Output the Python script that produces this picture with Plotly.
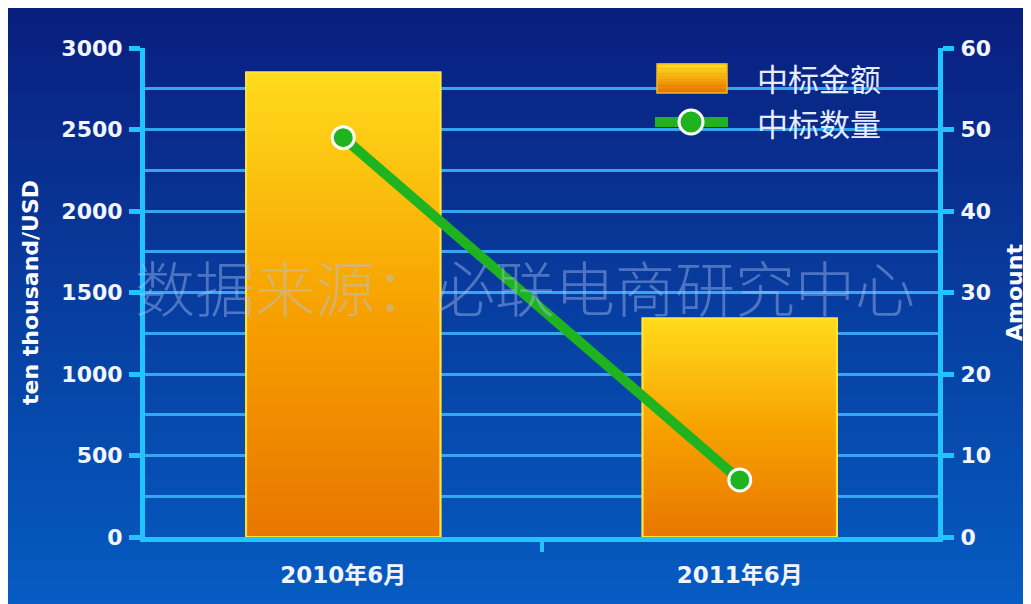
import plotly.graph_objects as go
import numpy as np

categories = ["2010年6月", "2011年6月"]
amount_values = [2850, 1340]      # 中标金额 (ten thousand USD)
count_values = [49, 7]            # 中标数量
left_ticks = [0, 500, 1000, 1500, 2000, 2500, 3000]
right_ticks = [0, 10, 20, 30, 40, 50, 60]
series_names = ["中标金额", "中标数量"]
watermark = "数据来源：必联电商研究中心"

x_pos = list(range(len(categories)))
bar_w = 0.49

W, H = 1023, 596
L, R, T, B = 137, 93, 40, 67
PW, PH = W - L - R, H - T - B


def px_x(page_x):
    return (page_x - 145) / PW


def px_y(page_y):
    return (537 - page_y) / PH


fig = go.Figure()

# background gradient strips (style only)
top_col = np.array([10, 31, 126])
bot_col = np.array([6, 92, 194])
y0p, y1p = -B / PH, (H - B) / PH + 0.01
x0p, x1p = -L / PW, (W - L) / PW
n = 80
for i in range(n):
    t = i / (n - 1)
    c = (bot_col * (1 - t) + top_col * t).astype(int)
    ya = y0p + (y1p - y0p) * i / n
    yb = y0p + (y1p - y0p) * (i + 1) / n + 0.002
    fig.add_shape(type="rect", xref="paper", yref="paper",
                  x0=x0p, x1=x1p, y0=ya, y1=yb,
                  fillcolor=f"rgb({c[0]},{c[1]},{c[2]})", line_width=0, layer="below")

bar_scale = [[0, "#e97600"], [0.5, "#f7a200"], [1, "#ffdb1c"]]

fig.add_trace(go.Bar(x=x_pos, y=amount_values, width=bar_w, name=series_names[0],
                     marker=dict(color="#f7a500", line=dict(color="#ffe23a", width=2)),
                     showlegend=False, yaxis="y"))

for xi, v in zip(x_pos, amount_values):
    xs = [xi - bar_w / 2, xi + bar_w / 2, xi + bar_w / 2, xi - bar_w / 2, xi - bar_w / 2]
    ys = [0, 0, v, v, 0]
    fig.add_trace(go.Scatter(x=xs, y=ys, mode="lines", fill="toself",
                             line=dict(color="#ffe23a", width=2),
                             fillgradient=dict(type="vertical", colorscale=bar_scale),
                             showlegend=False, hoverinfo="skip", yaxis="y"))

fig.add_trace(go.Scatter(x=x_pos, y=count_values, mode="lines+markers", name=series_names[1],
                         line=dict(color="#1fb41f", width=10),
                         marker=dict(size=22, color="#1fb41f", line=dict(color="white", width=3)),
                         showlegend=False, yaxis="y2"))

axis_col = "#22c4ff"
grid_col = "#36a6f2"
num_font = dict(family="DejaVu Sans", size=22, color="#f2f5ff", weight="bold")
title_font = dict(family="DejaVu Sans", size=22, color="white", weight="bold")

fig.update_layout(
    width=W, height=H,
    margin=dict(l=L, r=R, t=T, b=B, autoexpand=False),
    paper_bgcolor="white",
    plot_bgcolor="rgba(0,0,0,0)",
    showlegend=False,
    xaxis=dict(range=[-0.5, 1.5], tickvals=x_pos, ticktext=categories,
               showgrid=False, zeroline=False, showline=True, linecolor=axis_col, linewidth=5,
               ticks="", tickfont=dict(family="DejaVu Sans, Noto Sans CJK SC", size=23, color="#f2f5ff", weight="bold"),
               ticklabelstandoff=13,
               minor=dict(tickvals=[0.5], ticks="outside", ticklen=10, tickwidth=4, tickcolor=axis_col)),
    yaxis=dict(range=[0, 3000], tickvals=left_ticks, showgrid=True, gridcolor=grid_col, gridwidth=3,
               zeroline=False, showline=True, linecolor=axis_col, linewidth=5,
               ticks="outside", ticklen=11, tickwidth=5, tickcolor=axis_col,
               tickfont=num_font, ticklabelstandoff=2,
               minor=dict(dtick=250, showgrid=True, gridcolor=grid_col, gridwidth=3),
               title=dict(text="ten thousand/USD", font=title_font, standoff=18)),
    yaxis2=dict(range=[0, 60], tickvals=right_ticks, overlaying="y", side="right",
                showgrid=False, zeroline=False, showline=True, linecolor=axis_col, linewidth=5,
                ticks="outside", ticklen=11, tickwidth=5, tickcolor=axis_col,
                tickfont=num_font, ticklabelstandoff=2,
                title=dict(text="Amount", font=title_font, standoff=18)),
)

# watermark
fig.add_annotation(text=watermark, xref="paper", yref="paper", x=px_x(525), y=px_y(285),
                   showarrow=False,
                   font=dict(family="Noto Sans CJK SC", size=60, color="rgba(175,195,245,0.42)", weight=300))

# custom legend
nl = 12
ly0, ly1 = 93, 64
for i in range(nl):
    t = i / (nl - 1)
    c = (np.array([233, 118, 0]) * (1 - t) + np.array([255, 219, 28]) * t).astype(int)
    pa = ly0 - (ly0 - ly1) * i / nl
    pb = ly0 - (ly0 - ly1) * (i + 1) / nl - 0.5
    fig.add_shape(type="rect", xref="paper", yref="paper",
                  x0=px_x(657), x1=px_x(727), y0=px_y(pa), y1=px_y(pb),
                  fillcolor=f"rgb({c[0]},{c[1]},{c[2]})", line_width=0)
fig.add_shape(type="rect", xref="paper", yref="paper",
              x0=px_x(657), x1=px_x(727), y0=px_y(ly0), y1=px_y(ly1),
              line=dict(color="#f5b820", width=1.5), fillcolor="rgba(0,0,0,0)")
fig.add_shape(type="line", xref="paper", yref="paper",
              x0=px_x(655), x1=px_x(728), y0=px_y(122), y1=px_y(122),
              line=dict(color="#1fb41f", width=10))
fig.add_shape(type="circle", xref="paper", yref="paper",
              x0=px_x(679), x1=px_x(703), y0=px_y(134), y1=px_y(110),
              fillcolor="#1fb41f", line=dict(color="white", width=3))
for name, yy in zip(series_names, [78, 122]):
    fig.add_annotation(text=name, xref="paper", yref="paper", x=px_x(755), y=px_y(yy),
                       xanchor="left", yanchor="middle", showarrow=False,
                       font=dict(family="Noto Sans CJK SC", size=31, color="#e6ecff"))

fig.write_html("out.html")
